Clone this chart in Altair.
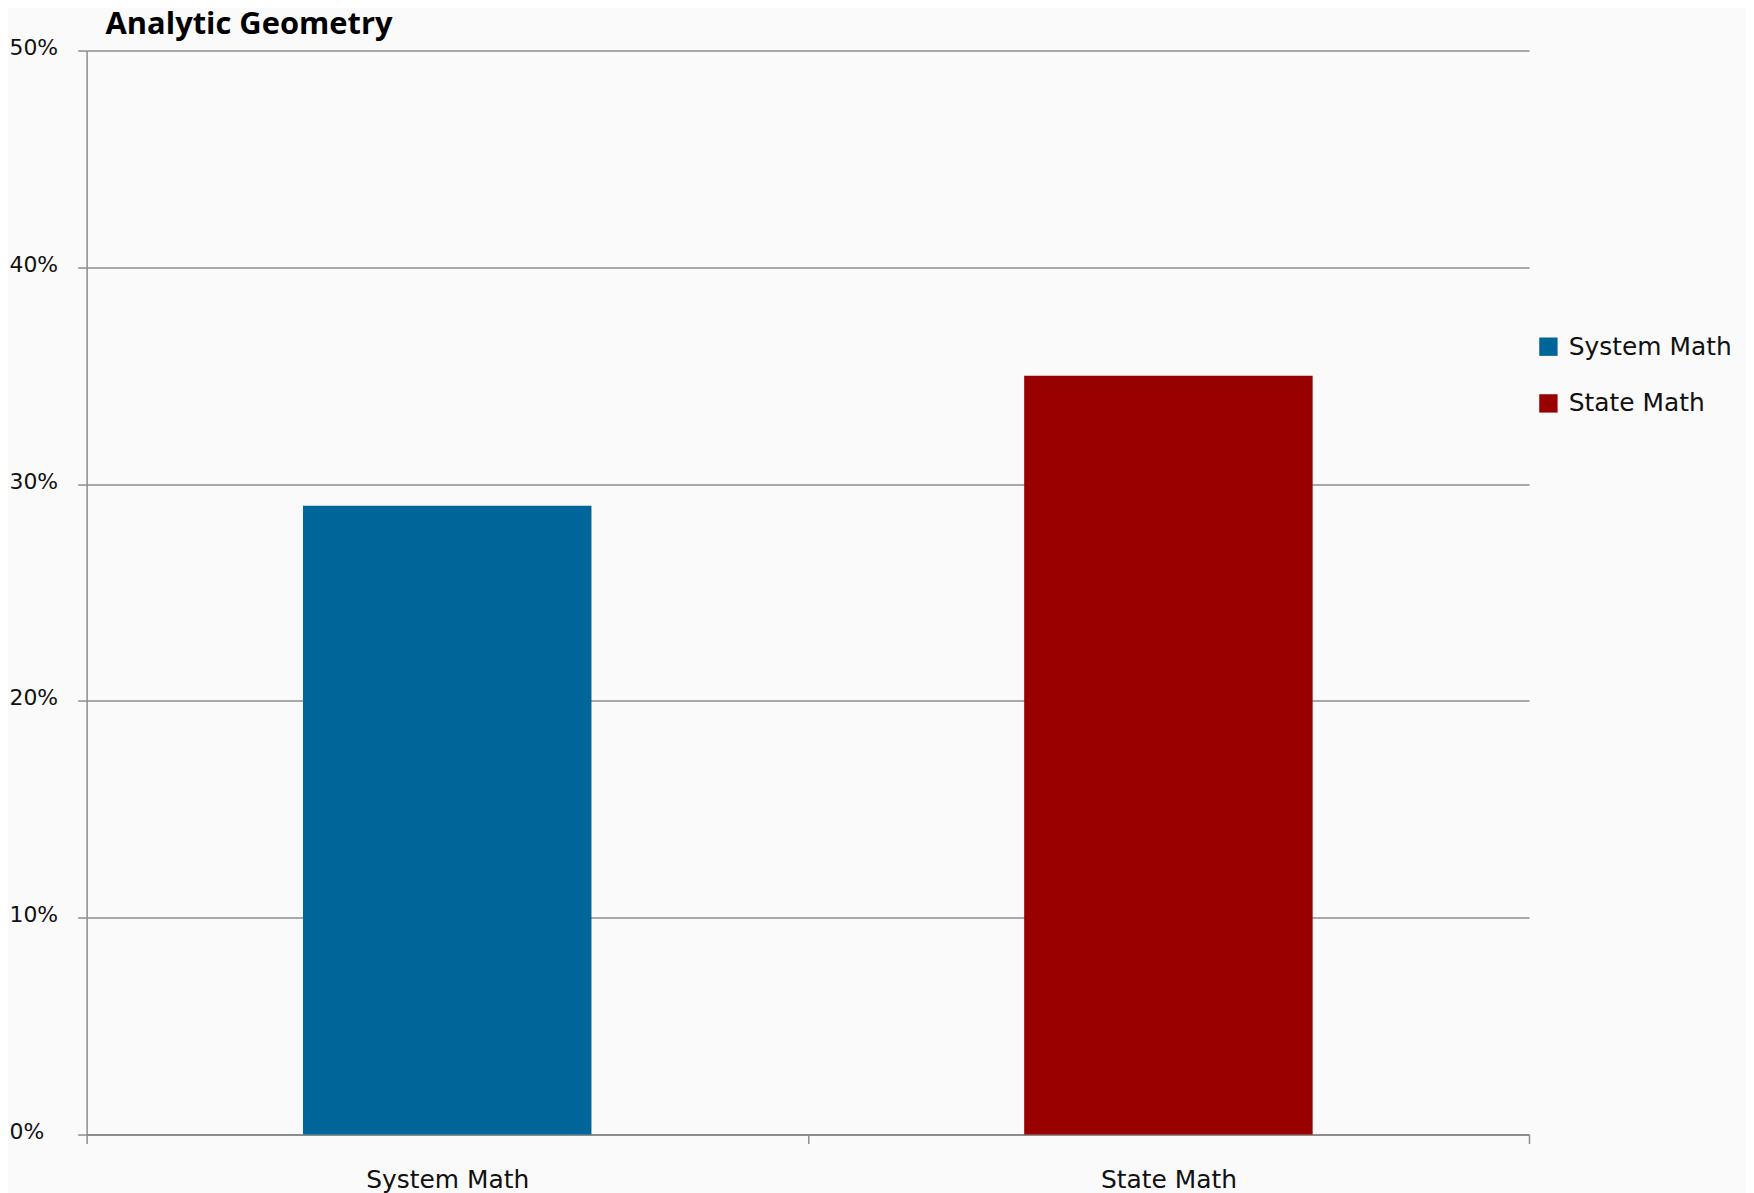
import altair as alt
import pandas as pd

categories = ["System Math", "State Math"]
values = [0.29, 0.35]
colors = ["#006699", "#990000"]
y_ticks = [0, 0.1, 0.2, 0.3, 0.4, 0.5]

df = pd.DataFrame({"category": categories, "value": values})

FONT = "DejaVu Sans"

chart = alt.Chart(df).mark_bar(width=alt.RelativeBandSize(0.4)).encode(
    x=alt.X("category:N", sort=categories, title=None,
            scale=alt.Scale(paddingInner=0, paddingOuter=0),
            axis=alt.Axis(labelAngle=0, labelFontSize=25, labelFont=FONT, labelColor="#111",
                          tickBand="extent", tickSize=9, tickColor="#8c8c8c", tickWidth=1.5,
                          domainColor="#8c8c8c", domainWidth=2, labelPadding=24, grid=False)),
    y=alt.Y("value:Q", title=None,
            scale=alt.Scale(domain=[0, 0.5], nice=False),
            axis=alt.Axis(values=y_ticks, format=".0%", labelFontSize=22, labelFont=FONT,
                          labelColor="#111", labelAlign="left", labelPadding=69, tickSize=9,
                          tickColor="#8c8c8c", tickWidth=1.5, domainColor="#8c8c8c", domainWidth=1.5,
                          gridColor="#8c8c8c", gridWidth=1.5, labelOffset=-3)),
    color=alt.Color("category:N", sort=categories,
                    scale=alt.Scale(domain=categories, range=colors),
                    legend=alt.Legend(title=None, orient="none", legendX=1456, legendY=285,
                                      symbolType="square", symbolSize=340, symbolStrokeWidth=0,
                                      labelFontSize=25, labelFont=FONT, labelColor="#111",
                                      labelLimit=0, rowPadding=31, labelOffset=8)),
).properties(
    width=1449,
    height=1089,
    title=alt.TitleParams("Analytic Geometry", anchor="start", dx=97, offset=-4,
                          fontSize=31, font="Open Sans", fontWeight="bold", color="#000"),
    autosize=alt.AutoSizeParams(type="none"),
    padding={"left": 79, "top": 40, "right": 218, "bottom": 60},
    background="#fafafa",
).configure_view(stroke=None)

chart.save("out.html", embed_options={"renderer": "svg", "actions": False})
